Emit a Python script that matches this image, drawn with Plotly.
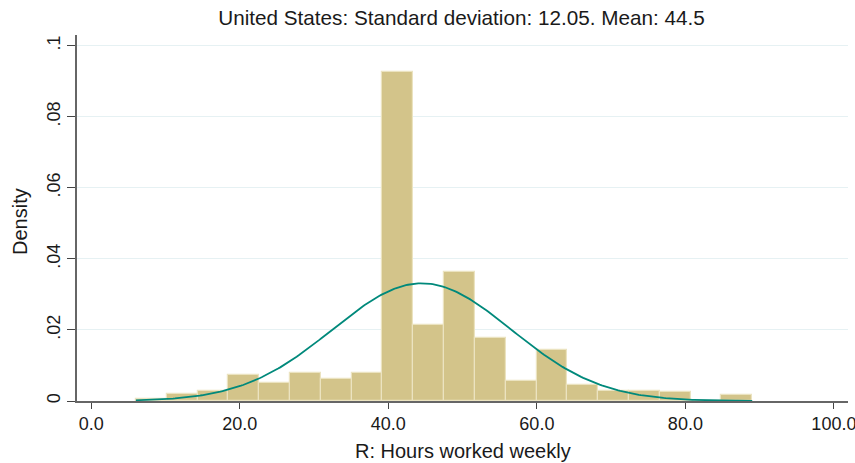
import numpy as np
import plotly.graph_objects as go

# Histogram data (density), 20 bins starting at 6.0, width 4.15
bin_start = 6.0
bin_width = 4.15
densities = [0.0007, 0.0019, 0.0029, 0.0074, 0.0052, 0.0080, 0.0062, 0.0080,
             0.0927, 0.0215, 0.0362, 0.0176, 0.0057, 0.0143, 0.0046, 0.0029,
             0.0029, 0.0024, 0.0, 0.0018]
mean_hours = 44.5
sd_hours = 12.05
x_tick_vals = [0, 20, 40, 60, 80, 100]
x_tick_text = ["0.0", "20.0", "40.0", "60.0", "80.0", "100.0"]
y_tick_vals = [0, 0.02, 0.04, 0.06, 0.08, 0.1]
y_tick_text = ["0", ".02", ".04", ".06", ".08", ".1"]

centers = [bin_start + (i + 0.5) * bin_width for i in range(len(densities))]
x_lo = bin_start
x_hi = bin_start + len(densities) * bin_width
xc = np.linspace(x_lo, x_hi, 300)
yc = np.exp(-0.5 * ((xc - mean_hours) / sd_hours) ** 2) / (sd_hours * np.sqrt(2 * np.pi))

font = "Liberation Sans, Arial, sans-serif"
txt = "#1a1a1a"

W, H = 855, 463
L, R, T, B = 77, 7, 35, 62

fig = go.Figure()
fig.add_trace(go.Bar(
    x=centers, y=densities, width=[bin_width] * len(densities),
    marker=dict(color="#d3c48a", line=dict(color="#ebe3c0", width=1.2)),
    showlegend=False, hoverinfo="x+y",
))
fig.add_trace(go.Scatter(
    x=xc, y=yc, mode="lines", line=dict(color="#00897b", width=1.8),
    showlegend=False,
))

fig.update_layout(
    width=W, height=H,
    margin=dict(l=L, r=R, t=T, b=B, autoexpand=False),
    paper_bgcolor="white", plot_bgcolor="white",
    bargap=0,
    font=dict(family=font, size=18, color=txt),
    title=dict(text="United States: Standard deviation: 12.05. Mean: 44.5",
               x=461.5 / W, xanchor="center", y=1 - 18 / H, yanchor="middle",
               xref="container", yref="container",
               font=dict(size=20.7, family=font, color=txt)),
    xaxis=dict(
        range=[-1.93, 101.9], tickvals=x_tick_vals, ticktext=x_tick_text,
        automargin=False, ticklabeloverflow="allow",
        showgrid=False, zeroline=False,
        showline=True, linecolor="#666666", linewidth=1.5,
        ticks="outside", ticklen=6, tickcolor="#444444", tickwidth=1.2,
        tickfont=dict(size=18, family=font, color=txt),
    ),
    yaxis=dict(
        range=[0, 0.103], tickvals=y_tick_vals, ticktext=y_tick_text,
        tickangle=-90, automargin=False, ticklabeloverflow="allow",
        showgrid=True, gridcolor="#e6f1f3", gridwidth=1.2, zeroline=False,
        showline=True, linecolor="#666666", linewidth=1.5,
        ticks="outside", ticklen=8, tickcolor="#444444", tickwidth=1.2,
        tickfont=dict(size=18, family=font, color=txt),
    ),
    annotations=[
        dict(text="R: Hours worked weekly", xref="paper", yref="paper",
             x=(463 - L) / (W - L - R), y=-(451 - (H - B)) / (H - B - T),
             xanchor="center", yanchor="middle", showarrow=False,
             font=dict(size=20, family=font, color=txt)),
        dict(text="Density", xref="paper", yref="paper",
             x=-(L - 20) / (W - L - R), y=((H - B) - 222) / (H - B - T),
             xanchor="center", yanchor="middle", showarrow=False, textangle=-90,
             font=dict(size=20, family=font, color=txt)),
    ],
)

fig.write_html("out.html", config={"displayModeBar": False},
               post_script="document.body.style.margin='0';document.body.style.overflow='hidden';")
